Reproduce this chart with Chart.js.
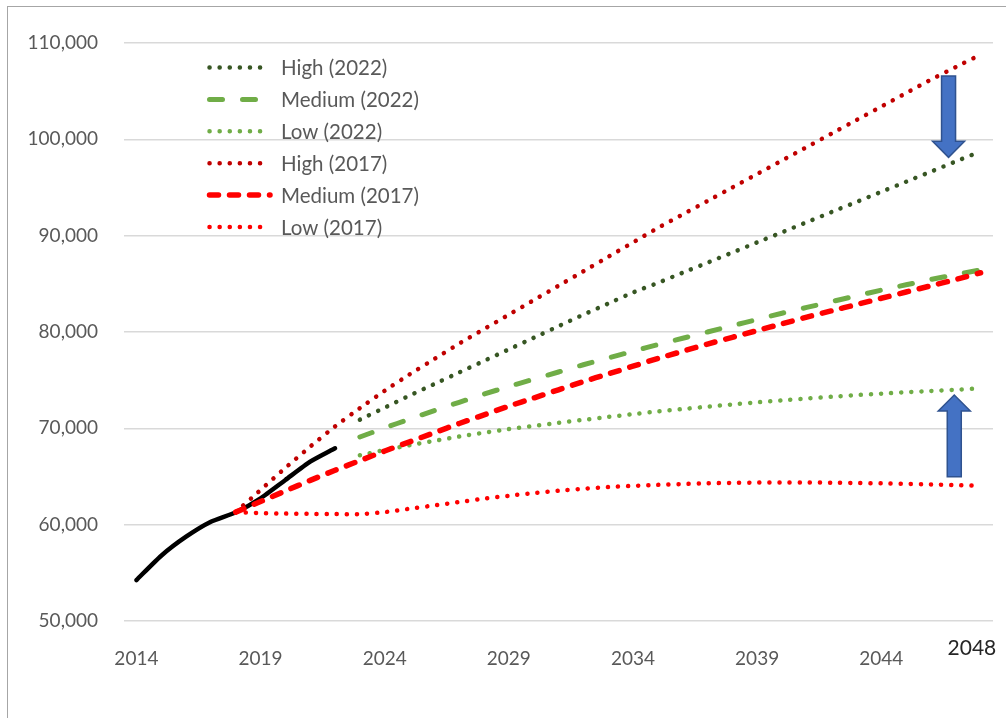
<!DOCTYPE html>
<html>
<head>
<meta charset="utf-8">
<script src="https://cdn.jsdelivr.net/npm/chart.js@4.4.1/dist/chart.umd.min.js"></script>
<style>
  html, body { margin: 0; padding: 0; background: #fff; overflow: hidden; }
  #wrap { position: absolute; left: 0; top: 0; width: 1006px; height: 718px; }
  #frame { position: absolute; left: 7px; top: 6px; width: 1100px; height: 800px;
           border: 1px solid #a6a6a6; box-sizing: border-box; }
</style>
</head>
<body>
<div id="frame"></div>
<div id="wrap"><canvas id="myChart"></canvas></div>
<script>
// years on the category axis
const years = [2014, 2015, 2016, 2017, 2018, 2019, 2020, 2021, 2022, 2023, 2024, 2025,
  2026, 2027, 2028, 2029, 2030, 2031, 2032, 2033, 2034, 2035, 2036, 2037, 2038,
  2039, 2040, 2041, 2042, 2043, 2044, 2045, 2046, 2047, 2048];
const xTickYears = [2014, 2019, 2024, 2029, 2034, 2039, 2044];
const endYearLabel = "2048";

// actual, 2014-2022
const actual = [54250, 56780, 58750, 60300, 61280, 62740, 64640, 66540, 67930];

// 2017 projections, 2018-2048
const high2017 = [61300, 63600, 65900, 68100, 70200, 72100, 73900, 75600, 77200, 78800,
  80300, 81800, 83300, 84800, 86300, 87800, 89300, 90800, 92200, 93600, 95000, 96400,
  97800, 99200, 100600, 102000, 103400, 104800, 106200, 107500, 108800];
const medium2017 = [61300, 62400, 63500, 64600, 65650, 66650, 67650, 68600, 69550, 70500,
  71400, 72300, 73150, 74000, 74850, 75650, 76450, 77250, 78000, 78750, 79450, 80150,
  80850, 81550, 82200, 82850, 83500, 84150, 84800, 85450, 86150];
const low2017 = [61300, 61200, 61150, 61120, 61100, 61100, 61300, 61650, 62000, 62350,
  62700, 63000, 63280, 63520, 63730, 63900, 64030, 64130, 64220, 64290, 64340, 64370,
  64380, 64380, 64360, 64330, 64290, 64240, 64180, 64110, 64040];

// 2022 projections, 2023-2048
const high2022 = [70900, 72150, 73400, 74600, 75800, 77000, 78200, 79400, 80600, 81800,
  82950, 84100, 85100, 86150, 87200, 88250, 89300, 90350, 91400, 92450, 93500, 94550,
  95600, 96650, 97700, 98750];
const medium2022 = [69100, 70050, 70950, 71850, 72700, 73550, 74350, 75100, 75850, 76600,
  77300, 78000, 78700, 79350, 80000, 80650, 81300, 81950, 82550, 83150, 83750, 84350,
  84900, 85450, 85950, 86450];
const low2022 = [67200, 67750, 68250, 68700, 69150, 69550, 69920, 70250, 70570, 70880,
  71180, 71470, 71750, 72000, 72250, 72480, 72700, 72900, 73100, 73280, 73450, 73600,
  73750, 73880, 74010, 74150];

const legendOrder = ["High (2022)", "Medium (2022)", "Low (2022)",
  "High (2017)", "Medium (2017)", "Low (2017)"];

// arrows: [year index, tail value, tip value]
const arrows = [
  [32.71, 106570, 98130],
  [32.94, 64980, 73460],
];

// put a series on the full year axis
function pad(startYear, values) {
  const out = years.map(() => null);
  values.forEach((v, i) => { out[years.indexOf(startYear) + i] = v; });
  return out;
}

const DOT = [0.1, 10];

function series(label, data, color, width, dash) {
  return {
    label: label,
    data: data,
    borderColor: color,
    backgroundColor: color,
    borderWidth: width,
    borderDash: dash,
    borderCapStyle: "round",
    borderJoinStyle: "round",
    pointRadius: 0,
    tension: 0.2,
    fill: false,
    spanGaps: false,
  };
}

const datasets = [
  series("Medium (2017)", pad(2018, medium2017), "#ff0000", 5.5, [9, 11]),
  series("Low (2017)", pad(2018, low2017), "#ff0000", 4.5, DOT),
  series("High (2017)", pad(2018, high2017), "#c00000", 4.5, DOT),
  series("Medium (2022)", pad(2023, medium2022), "#70ad47", 5, [13, 20]),
  series("Low (2022)", pad(2023, low2022), "#70ad47", 4.5, DOT),
  series("High (2022)", pad(2023, high2022), "#375623", 4.5, DOT),
  series("Actual", pad(2014, actual), "#000000", 4.5, []),
];

const insideLegend = {
  id: "insideLegend",
  afterDraw(chart) {
    const ctx = chart.ctx;
    legendOrder.forEach((name, i) => {
      const ds = chart.data.datasets.find((d) => d.label === name);
      const y = 67.5 + i * 31.9;
      ctx.save();
      ctx.strokeStyle = ds.borderColor;
      ctx.lineWidth = ds.borderWidth;
      ctx.lineCap = "round";
      ctx.setLineDash(ds.borderDash);
      ctx.beginPath();
      ctx.moveTo(209.5, y);
      ctx.lineTo(270, y);
      ctx.stroke();
      ctx.setLineDash([]);
      ctx.fillStyle = "#595959";
      ctx.font = "20.5px Lato";
      ctx.textBaseline = "middle";
      ctx.fillText(name, 281, y + 1);
      ctx.restore();
    });

    // the end year label sits a little left of its category
    const xs = chart.scales.x;
    ctx.save();
    ctx.fillStyle = "#262626";
    ctx.font = "21px Lato";
    ctx.textAlign = "center";
    ctx.textBaseline = "middle";
    ctx.fillText(endYearLabel, xs.getPixelForValue(years.indexOf(2048) - 0.35), 648);
    ctx.restore();
  },
};

const arrowPlugin = {
  id: "arrows",
  afterDatasetsDraw(chart) {
    const ctx = chart.ctx;
    const xs = chart.scales.x;
    const ys = chart.scales.y;
    arrows.forEach(([xi, from, to]) => {
      const x = xs.getPixelForValue(xi);
      const yTail = ys.getPixelForValue(from);
      const yTip = ys.getPixelForValue(to);
      const dir = yTip > yTail ? 1 : -1;
      const yBase = yTip - dir * 16;
      const sw = 14, hw = 32;
      ctx.save();
      ctx.beginPath();
      ctx.moveTo(x - sw / 2, yTail);
      ctx.lineTo(x + sw / 2, yTail);
      ctx.lineTo(x + sw / 2, yBase);
      ctx.lineTo(x + hw / 2, yBase);
      ctx.lineTo(x, yTip);
      ctx.lineTo(x - hw / 2, yBase);
      ctx.lineTo(x - sw / 2, yBase);
      ctx.closePath();
      ctx.fillStyle = "#4472c4";
      ctx.fill();
      ctx.lineWidth = 1.5;
      ctx.strokeStyle = "#2f528f";
      ctx.stroke();
      ctx.restore();
    });
  },
};

Chart.defaults.font.family = "Lato";

const cxt = document.querySelector("#myChart");

const config = {
  type: "line",
  data: {
    labels: years,
    datasets: datasets,
  },
  options: {
    responsive: true,
    maintainAspectRatio: false,
    animation: false,
    layout: { padding: { left: 0, top: 43, right: 13, bottom: 0 } },
    plugins: {
      legend: { display: false },
      tooltip: { enabled: false },
    },
    scales: {
      x: {
        offset: true,
        grid: { display: false },
        border: { display: false },
        afterFit: (scale) => {
          scale.height = 97;
          scale.paddingLeft = 0;
          scale.paddingRight = 0;
        },
        ticks: {
          autoSkip: false,
          maxRotation: 0,
          padding: 18,
          color: "#595959",
          font: { size: 19 },
          callback: function (value, index) {
            const y = years[index];
            return xTickYears.includes(y) ? String(y) : "";
          },
        },
      },
      y: {
        min: 50000,
        max: 110000,
        grid: { color: "#d9d9d9", lineWidth: 1.5, drawTicks: false },
        border: { display: false },
        afterFit: (scale) => { scale.width = 124; },
        ticks: {
          stepSize: 10000,
          padding: 26,
          color: "#595959",
          font: { size: 19 },
          callback: (v) => v.toLocaleString("en-US"),
        },
      },
    },
  },
  plugins: [insideLegend, arrowPlugin],
};

new Chart(cxt, config);
</script>
</body>
</html>
